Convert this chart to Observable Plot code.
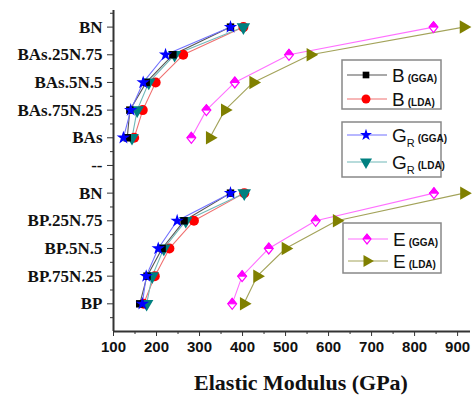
<!DOCTYPE html>
<html><head><meta charset="utf-8">
<script src="https://cdn.jsdelivr.net/npm/d3@7"></script>
<script src="https://cdn.jsdelivr.net/npm/@observablehq/plot@0.6"></script>
<style>body{margin:0;background:#fff}</style>
</head><body><div id="chart"></div>
<script>
// categories, top to bottom
const categories = ["BN","BAs.25N.75","BAs.5N.5","BAs.75N.25","BAs","--","BN","BP.25N.75","BP.5N.5","BP.75N.25","BP"];
const yPos = [11,10,9,8,7,6,5,4,3,2,1];
// series values (GPa); null = separator row
const bGGA  = [372, 238, 176, 138, 132, null, 372, 264, 213, 178, 161];
const bLDA  = [402, 262, 198, 168, 148, null, 404, 287, 230, 196, 170];
const grGGA = [372, 221, 169, 140, 123, null, 372, 248, 204, 176, 167];
const grLDA = [402, 242, 182, 155, 143, null, 404, 268, 217, 190, 177];
const eGGA  = [844, 508, 382, 316, 281, null, 845, 570, 461, 399, 376];
const eLDA  = [914, 558, 425, 359, 324, null, 915, 619, 500, 434, 403];
const xTicks = [100,200,300,400,500,600,700,800,900];
const xMinor = [150,250,350,450,550,650,750,850];
const yMinor = [0.5,1.5,2.5,3.5,4.5,5.5,6.5,7.5,8.5,9.5,10.5,11.5];

const halfDiamond = {draw(ctx, size){ const r = Math.sqrt(size)*0.62; ctx.moveTo(0,-r); ctx.lineTo(r*0.8,0); ctx.lineTo(-r*0.8,0); ctx.closePath(); }};
const fullDiamond = {draw(ctx, size){ const r = Math.sqrt(size)*0.62; ctx.moveTo(0,-r); ctx.lineTo(r*0.8,0); ctx.lineTo(0,r); ctx.lineTo(-r*0.8,0); ctx.closePath(); }};

const series = [
  {key:"eLDA", vals:eLDA, line:"#a3a35a", color:"#808000", symbol:"triangle", rotate:90, r:5},
  {key:"eGGA", vals:eGGA, line:"#ff70ff", color:"#ff00ff", symbol:"diamondHalf", r:5},
  {key:"bLDA", vals:bLDA, line:"#f07070", color:"#ff0000", symbol:"circle", r:5},
  {key:"grLDA", vals:grLDA, line:"#70b8b8", color:"#008080", symbol:"triangle", rotate:180, r:5},
  {key:"bGGA", vals:bGGA, line:"#555555", color:"#000000", symbol:"square", r:4.2},
  {key:"grGGA", vals:grGGA, line:"#7070ff", color:"#0000ff", symbol:"star", r:4.2},
];
function rows(s){ return categories.map((c,i)=>({y:yPos[i], x:s.vals[i]})); }

const marks = [];
for (const s of series) marks.push(Plot.line(rows(s), {x:"x", y:"y", stroke:s.line, strokeWidth:1.1}));
for (const s of series) {
  const data = rows(s).filter(d=>d.x!=null);
  if (s.symbol === "diamondHalf") {
    marks.push(Plot.dot(data, {x:"x", y:"y", symbol:fullDiamond, r:s.r, fill:"white", stroke:s.color, strokeWidth:1.2}));
    marks.push(Plot.dot(data, {x:"x", y:"y", symbol:halfDiamond, r:s.r, fill:s.color, stroke:s.color, strokeWidth:1}));
  } else {
    marks.push(Plot.dot(data, {x:"x", y:"y", symbol:s.symbol, r:s.r, fill:s.color, stroke:"none", rotate:s.rotate||0}));
  }
}

const axisFont = "'Liberation Serif','Times New Roman',serif";
const tickFont = "'Liberation Sans',Arial,sans-serif";
const plot = Plot.plot({
  width:474, height:400,
  marginLeft:113, marginRight:4, marginTop:10, marginBottom:69,
  x:{domain:[100,930]},
  y:{domain:[0,11.6]},
  marks:[
    Plot.axisX(xMinor, {tickSize:3, tickFormat:()=>"", label:null, stroke:"#333"}),
    Plot.axisX(xTicks, {tickSize:5, tickPadding:5, label:null, fontSize:15, fontWeight:"bold", fontFamily:tickFont, fill:"#111", stroke:"#333"}),
    Plot.axisY(yMinor, {tickSize:3, tickFormat:()=>"", label:null, stroke:"#333"}),
    Plot.axisY(yPos, {tickSize:6, tickPadding:5, label:null, tickFormat:d=>categories[yPos.indexOf(d)], fontSize:17, fontWeight:"bold", fontFamily:axisFont, fill:"#111", stroke:"#333"}),
    Plot.ruleX([100], {stroke:"#333", strokeWidth:2}),
    Plot.ruleY([0], {stroke:"#333", strokeWidth:2}),
    ...marks
  ]
});
document.getElementById("chart").appendChild(plot);

// x-axis title
const svg = d3.select(plot);
svg.append("text").attr("x",301).attr("y",390).attr("text-anchor","middle")
  .attr("font-family",axisFont).attr("font-weight","bold").attr("font-size",22).attr("fill","#111")
  .text("Elastic Modulus (GPa)");

// legends
const legendBoxes = [
  {x:342, y:60, w:99, h:49, items:[{s:"bGGA", name:"B", sub:null, tag:"(GGA)", y:75},{s:"bLDA", name:"B", sub:null, tag:"(LDA)", y:99}]},
  {x:342, y:122, w:99, h:55, items:[{s:"grGGA", name:"G", sub:"R", tag:"(GGA)", y:135},{s:"grLDA", name:"G", sub:"R", tag:"(LDA)", y:162}]},
  {x:343, y:223, w:98, h:50, items:[{s:"eGGA", name:"E", sub:null, tag:"(GGA)", y:239},{s:"eLDA", name:"E", sub:null, tag:"(LDA)", y:261}]},
];
const symMap = {circle:d3.symbolCircle, square:d3.symbolSquare, star:d3.symbolStar, triangle:d3.symbolTriangle};
for (const b of legendBoxes) {
  const g = svg.append("g");
  g.append("rect").attr("x",b.x).attr("y",b.y).attr("width",b.w).attr("height",b.h)
    .attr("fill","white").attr("stroke","#888").attr("stroke-width",1.5);
  for (const it of b.items) {
    const s = series.find(d=>d.key===it.s);
    g.append("line").attr("x1",b.x+5).attr("x2",b.x+45).attr("y1",it.y).attr("y2",it.y).attr("stroke",s.line).attr("stroke-width",1.1);
    const size = Math.PI*s.r*s.r*0.8;
    const cx = b.x+24;
    if (s.symbol==="diamondHalf") {
      g.append("path").attr("d",d3.symbol(fullDiamond,size)()).attr("transform",`translate(${cx},${it.y})`).attr("fill","white").attr("stroke",s.color).attr("stroke-width",1.2);
      g.append("path").attr("d",d3.symbol(halfDiamond,size)()).attr("transform",`translate(${cx},${it.y})`).attr("fill",s.color).attr("stroke",s.color);
    } else {
      g.append("path").attr("d",d3.symbol(symMap[s.symbol],size)()).attr("transform",`translate(${cx},${it.y}) rotate(${s.rotate||0})`).attr("fill",s.color);
    }
    const t = g.append("text").attr("x",b.x+50).attr("y",it.y+7).attr("text-anchor","start").attr("font-family",tickFont).attr("font-size",19).attr("fill","#111");
    t.append("tspan").text(it.name);
    if (it.sub) t.append("tspan").attr("font-size",11).attr("dy",5).text(it.sub);
    t.append("tspan").attr("font-size",10).attr("font-weight","bold").attr("dx",3).attr("dy", it.sub ? -5 : 0).text(it.tag);
  }
}
</script></body></html>
